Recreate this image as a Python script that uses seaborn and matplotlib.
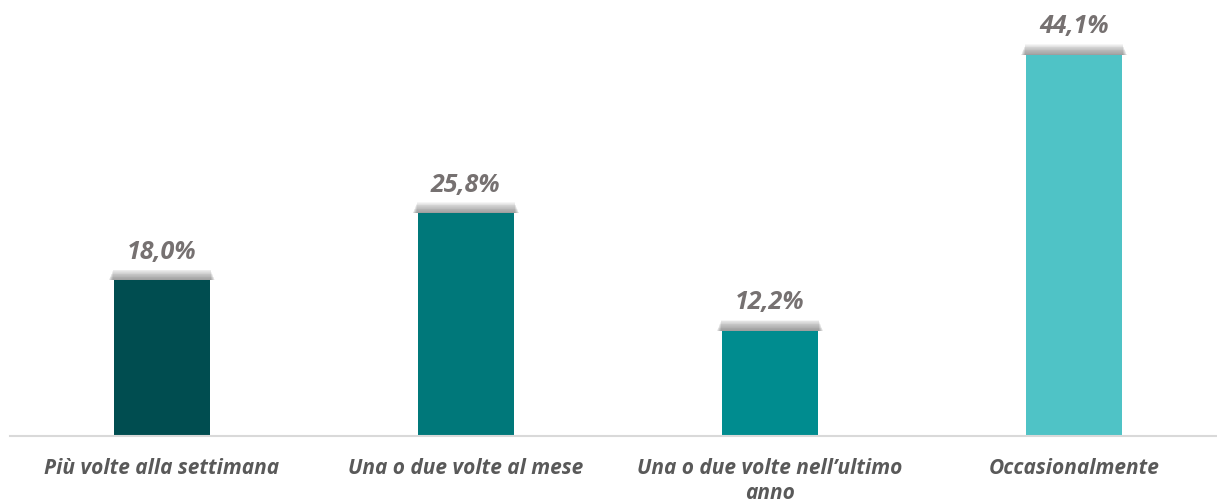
import matplotlib
matplotlib.use('Agg')
import matplotlib.pyplot as plt
import seaborn as sns
import pandas as pd

# ------------------------
# Dati
# ------------------------
categorie = ['Più volte alla settimana', 'Una o due volte al mese',
             'Una o due volte nell\u2019ultimo\nanno', 'Occasionalmente']
valori = [18.0, 25.8, 12.2, 44.1]
etichette = ['18,0%', '25,8%', '12,2%', '44,1%']
colori = ['#004D50', '#00787A', '#008C8F', '#4FC3C6']

df = pd.DataFrame({'cat': categorie, 'val': valori})

sns.set_style('white')
plt.rcParams['font.family'] = ['Open Sans', 'DejaVu Sans']

fig = plt.figure(figsize=(12.17, 5.04), dpi=100)
ax = fig.add_axes([0.008, 0.135, 0.992, 0.857])

# ombra sfumata sopra le barre
for k in range(14):
    ax.bar(range(len(valori)), [0.08 + k * 0.09] * len(valori), bottom=valori,
           width=0.315 + 0.034 - k * 0.0022, color='#6a6a6a', alpha=0.065,
           zorder=1, linewidth=0)

sns.barplot(data=df, x='cat', y='val', hue='cat', palette=colori, legend=False,
            width=0.315, ax=ax, zorder=2, saturation=1, linewidth=0)

for i, (v, t) in enumerate(zip(valori, etichette)):
    ax.text(i, v + 1.8, t, ha='center', va='bottom', fontsize=18, fontweight='bold',
            fontstyle='italic', color='#767171')

ax.set_ylim(0, 50)
ax.set_xlim(-0.5, 3.47)
ax.set_xlabel('')
ax.set_ylabel('')
ax.set_yticks([])
ax.tick_params(axis='x', length=0, pad=16)
for lbl in ax.get_xticklabels():
    lbl.set_fontsize(15)
    lbl.set_fontweight('bold')
    lbl.set_fontstyle('italic')
    lbl.set_color('#595959')
    lbl.set_verticalalignment('top')
    lbl.set_linespacing(1.25)

for s in ['top', 'right', 'left']:
    ax.spines[s].set_visible(False)
ax.spines['bottom'].set_color('#d9d9d9')
ax.spines['bottom'].set_linewidth(1.5)

plt.savefig('out.png', dpi=100)
plt.close()
